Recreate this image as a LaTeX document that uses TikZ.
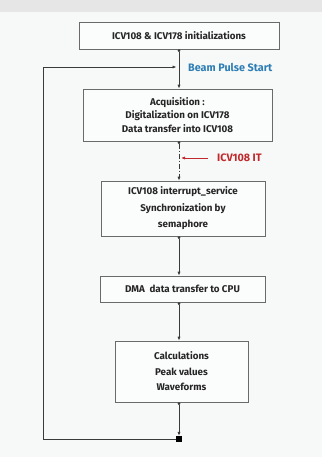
\documentclass[tikz,border=0pt]{standalone}
\usepackage{fontspec}
\setmainfont{Fira Sans}
\usetikzlibrary{arrows.meta}
\definecolor{bgc}{HTML}{F6F9F7}
\definecolor{topc}{HTML}{E6E6E6}
\definecolor{linec}{HTML}{3A3A3A}
\definecolor{boxc}{HTML}{6A6A6A}
\definecolor{bluec}{HTML}{2E7DB5}
\definecolor{redc}{HTML}{C0282C}
\tikzset{
  x=1pt, y=-1pt,
  box/.style={draw=boxc, line width=0.7pt, fill=white!60!bgc, align=center, inner sep=2pt,
    font=\bfseries\fontsize{9.8}{16}\selectfont, text=black!85},
  conn/.style={draw=linec, line width=0.8pt, -{Latex[length=4pt,width=3.2pt]}},
  sconn/.style={conn, {Circle[length=2.6pt]}-{Latex[length=4pt,width=3.2pt]}},
  lbl/.style={font=\bfseries\fontsize{10.8}{11}\selectfont, inner sep=0pt},
}
\begin{document}
\begin{tikzpicture}
\useasboundingbox (0,0) rectangle (322,457);
\fill[bgc] (0,0) rectangle (322,457);
\fill[topc] (0,0) rectangle (322,12);

\node[box, minimum width=200pt, minimum height=27pt] (b1) at (179,35.5) {ICV108 \& ICV178 initializations};
\node[box, minimum width=189pt, minimum height=52pt, font=\bfseries\fontsize{9.8}{13.5}\selectfont] (b2) at (177.5,115) {Acquisition :\\Digitalization on ICV178\\Data transfer into ICV108};
\node[box, minimum width=164pt, minimum height=55pt, font=\bfseries\fontsize{9.8}{16.5}\selectfont] (b3) at (183,208.5) {ICV108 interrupt\_service\\Synchronization by\\semaphore};
\node[box, minimum width=165pt, minimum height=26pt] (b4) at (182.5,289) {DMA\ \ data transfer to CPU};
\node[box, minimum width=133pt, minimum height=61pt, font=\bfseries\fontsize{9.8}{15.5}\selectfont] (b5) at (181.5,371.5) {Calculations\\Peak values\\Waveforms};

\coordinate (sp) at (179,0);
\coordinate (lb) at (43,439);
\coordinate (lt) at (43,67);
\coordinate (bp) at (179,67);
\node[fill=black, minimum size=6pt, inner sep=0pt] (junc) at (179,439) {};

\node[lbl, text=bluec, anchor=west] (beam) at (188,67) {Beam Pulse Start};
\node[lbl, text=redc, anchor=west] (it) at (217,158) {ICV108 IT};
\coordinate (itend) at (181,158);
\coordinate (itstart) at (208,158);

\draw[sconn] (b1.south -| sp) -- (b2.north -| sp);
\draw[sconn, dash pattern=on 5pt off 2pt on 1pt off 2pt] (b2.south -| sp) -- (b3.north -| sp);
\draw[sconn] (b3.south -| sp) -- (b4.north -| sp);
\draw[sconn] (b4.south -| sp) -- (b5.north -| sp);
\draw[sconn] (b5.south -| sp) -- (junc.north);
\draw[conn] (junc.west) -- (lb) -- (lt) -- ([xshift=-2.5pt]bp);
\draw[draw=redc, line width=0.8pt, -{Latex[length=4pt,width=3.2pt]}] (itstart) -- (itend);
\end{tikzpicture}
\end{document}
